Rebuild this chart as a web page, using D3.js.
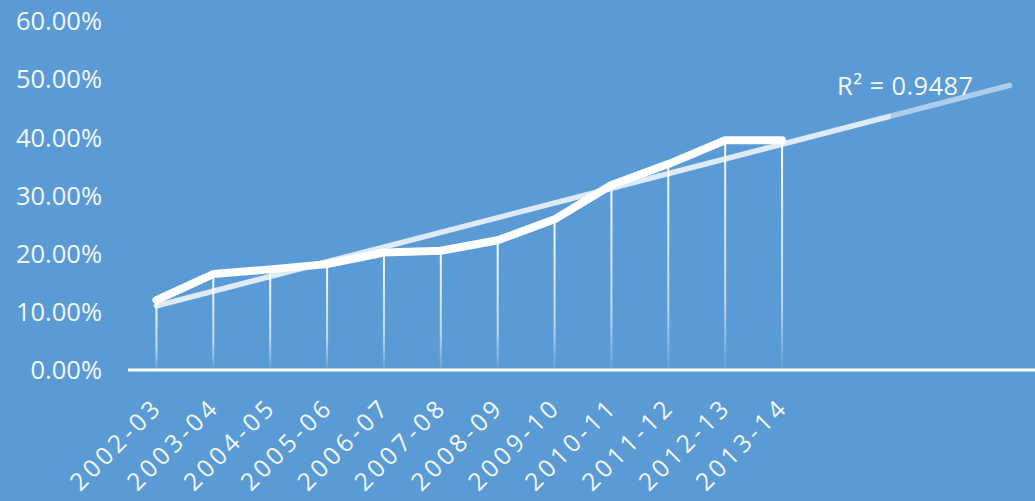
<!DOCTYPE html>
<html>
<head>
<meta charset="utf-8">
<script src="https://cdn.jsdelivr.net/npm/d3@7"></script>
<style>
  body { margin: 0; background: #5b9bd5; }
  text { font-family: "Open Sans", sans-serif; fill: #f4f7fb; }
</style>
</head>
<body>
<div id="chart"></div>
<script>
(function () {

  // Data
  const years = ["2002-03", "2003-04", "2004-05", "2005-06", "2006-07", "2007-08",
                 "2008-09", "2009-10", "2010-11", "2011-12", "2012-13", "2013-14"]
  const shares = [0.120, 0.165, 0.173, 0.182, 0.202, 0.205,
                  0.223, 0.259, 0.318, 0.354, 0.395, 0.395]
  const yTicks = [0, 0.1, 0.2, 0.3, 0.4, 0.5, 0.6]
  const forecastPeriods = 4
  const rSquaredLabel = "R² = 0.9487"

  const width = 1035
  const height = 501
  const margin = { top: 21, right: 0, bottom: 131, left: 128 }

  const svg = d3.select("#chart").append("svg")
      .attr("width", width)
      .attr("height", height)

  svg.append("rect")
      .attr("width", width)
      .attr("height", height)
      .attr("fill", "#5b9bd5")

  const slots = years.length + forecastPeriods

  // x works on 1-based period index so the trendline can run forward
  const x = d3.scaleLinear()
    .domain([0.5, slots + 0.5])
    .range([margin.left, margin.left + 910])

  const y = d3.scaleLinear()
    .domain([0, 0.6])
    .range([height - margin.bottom, margin.top])

  const defs = svg.append("defs")

  const dropGrad = defs.append("linearGradient")
      .attr("id", "dropGrad")
      .attr("x1", 0).attr("y1", 0).attr("x2", 0).attr("y2", 1)
  dropGrad.append("stop").attr("offset", "0%").attr("stop-color", "#fff").attr("stop-opacity", 0.95)
  dropGrad.append("stop").attr("offset", "70%").attr("stop-color", "#fff").attr("stop-opacity", 0.6)
  dropGrad.append("stop").attr("offset", "100%").attr("stop-color", "#fff").attr("stop-opacity", 0.05)

  const trendGrad = defs.append("linearGradient")
      .attr("id", "trendGrad")
      .attr("gradientUnits", "userSpaceOnUse")
      .attr("x1", x(1)).attr("y1", 0).attr("x2", x(slots)).attr("y2", 0)
  trendGrad.append("stop").attr("offset", "0%").attr("stop-color", "#fff").attr("stop-opacity", 0.8)
  trendGrad.append("stop").attr("offset", "86%").attr("stop-color", "#fff").attr("stop-opacity", 0.8)
  trendGrad.append("stop").attr("offset", "86.1%").attr("stop-color", "#fff").attr("stop-opacity", 0.5)
  trendGrad.append("stop").attr("offset", "100%").attr("stop-color", "#fff").attr("stop-opacity", 0.5)

  // Y axis labels
  svg.append("g")
    .selectAll("text")
    .data(yTicks)
    .join("text")
      .attr("x", 102)
      .attr("y", d => y(d))
      .attr("dy", "0.36em")
      .attr("text-anchor", "end")
      .attr("font-size", 25.5)
      .text(d => d3.format(".2%")(d))

  // Drop lines
  svg.append("g")
    .selectAll("rect")
    .data(shares)
    .join("rect")
      .attr("x", (d, i) => x(i + 1) - 1)
      .attr("y", d => y(d))
      .attr("width", 2)
      .attr("height", d => y(0) - y(d))
      .attr("fill", "url(#dropGrad)")

  // Linear trendline (least squares), forecast forward
  const mx = d3.mean(shares, (d, i) => i + 1)
  const my = d3.mean(shares)
  const sxy = d3.sum(shares, (d, i) => (i + 1 - mx) * (d - my))
  const sxx = d3.sum(shares, (d, i) => (i + 1 - mx) * (i + 1 - mx))
  const slope = sxy / sxx
  const intercept = my - slope * mx

  svg.append("line")
      .attr("x1", x(1))
      .attr("y1", y(intercept + slope))
      .attr("x2", x(slots))
      .attr("y2", y(intercept + slope * slots))
      .attr("stroke", "url(#trendGrad)")
      .attr("stroke-width", 5.5)
      .attr("stroke-linecap", "round")

  // Main line
  const line = d3.line()
    .x((d, i) => x(i + 1))
    .y(d => y(d))

  svg.append("path")
      .datum(shares)
      .attr("d", line)
      .attr("fill", "none")
      .attr("stroke", "#fff")
      .attr("stroke-width", 8)
      .attr("stroke-linejoin", "round")
      .attr("stroke-linecap", "round")

  // X axis line
  svg.append("line")
      .attr("x1", margin.left)
      .attr("x2", width)
      .attr("y1", y(0))
      .attr("y2", y(0))
      .attr("stroke", "#fff")
      .attr("stroke-width", 3)

  // Rotated category labels (baseline end sits just right of the tick)
  const labelSpacing = 3.8
  svg.append("g")
    .selectAll("text")
    .data(years)
    .join("text")
      .attr("transform", (d, i) => `translate(${x(i + 1) + 5},${y(0) + 41}) rotate(-45)`)
      .attr("text-anchor", "end")
      .attr("dx", labelSpacing)
      .attr("letter-spacing", labelSpacing)
      .attr("font-size", 24.5)
      .text(d => d)

  // R squared label
  svg.append("text")
      .attr("x", 837)
      .attr("y", 95)
      .attr("font-size", 25.5)
      .attr("letter-spacing", 0.4)
      .text(rSquaredLabel)

})();
</script>
</body>
</html>
